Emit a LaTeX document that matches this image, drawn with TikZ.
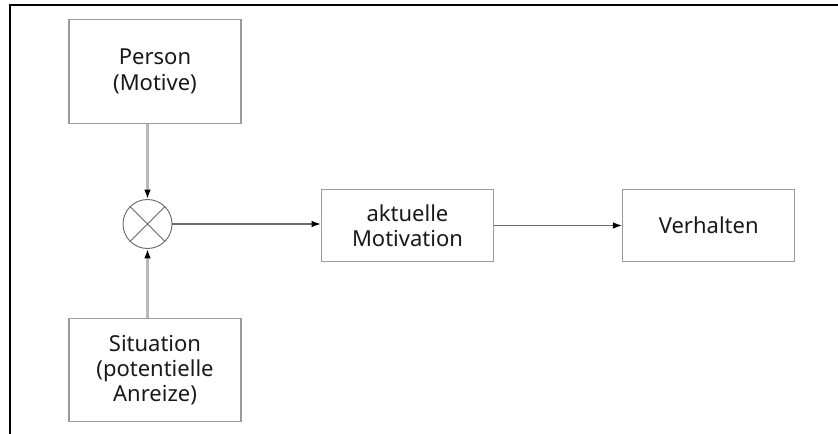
\documentclass[tikz,border=0pt]{standalone}
\usepackage{fontspec}
\setmainfont{Noto Sans}
\usetikzlibrary{positioning,calc,arrows.meta}
\definecolor{BoxGray}{RGB}{155,155,155}
\definecolor{LineGray}{RGB}{105,105,105}
\definecolor{StemGray}{RGB}{185,185,185}
\definecolor{TextDark}{RGB}{25,25,25}
\tikzset{
    blocknode/.style={rectangle, draw=BoxGray, line width=0.9pt, fill=white, text=TextDark, font=\fontsize{16.5}{19}\selectfont, align=center, minimum width=129pt, minimum height=77.5pt, inner sep=2pt},
    mixnode/.style={circle, draw=LineGray, line width=0.7pt, fill=white, minimum size=36.75pt, inner sep=0pt},
    flowarrow/.style={draw=LineGray, line width=1pt, -{Latex[length=7pt,width=5pt,color=black]}},
    stemarrow/.style={draw=StemGray, line width=1.6pt, -{Latex[length=7pt,width=5pt,color=black]}}
}

\begin{document}
\begin{tikzpicture}[x=0.75pt, y=-0.75pt]
    \useasboundingbox (0,0) rectangle (838,434);
    % Rahmen (nur oben und links)
    \draw[line width=1.6pt] (10,434) -- (10,5) -- (838,5);

    % 1. Kästen
    \node[blocknode] (person) at (155,71.5) {Person\\(Motive)};
    \node[mixnode] (mix) at (147.5,224) {};
    \node[blocknode] (situation) at (155,370) {Situation\\(potentielle\\Anreize)};
    \node[blocknode, minimum height=53.5pt] (motivation) at (407.5,225.5) {aktuelle\\Motivation};
    \node[blocknode, minimum height=53.5pt, right=96pt of motivation] (verhalten) {Verhalten};

    % Kreuz im Kreis
    \draw[LineGray, line width=0.7pt] (mix.north west) -- (mix.south east)
        (mix.north east) -- (mix.south west);

    % 2. Pfeile
    \draw[stemarrow] (person.south -| mix.north) -- (mix.north);
    \draw[stemarrow] (situation.north -| mix.south) -- (mix.south);
    \draw[flowarrow] (mix.east) -- (mix.east -| motivation.west);
    \draw[flowarrow] (motivation.east) -- (motivation.east -| verhalten.west);
\end{tikzpicture}
\end{document}
